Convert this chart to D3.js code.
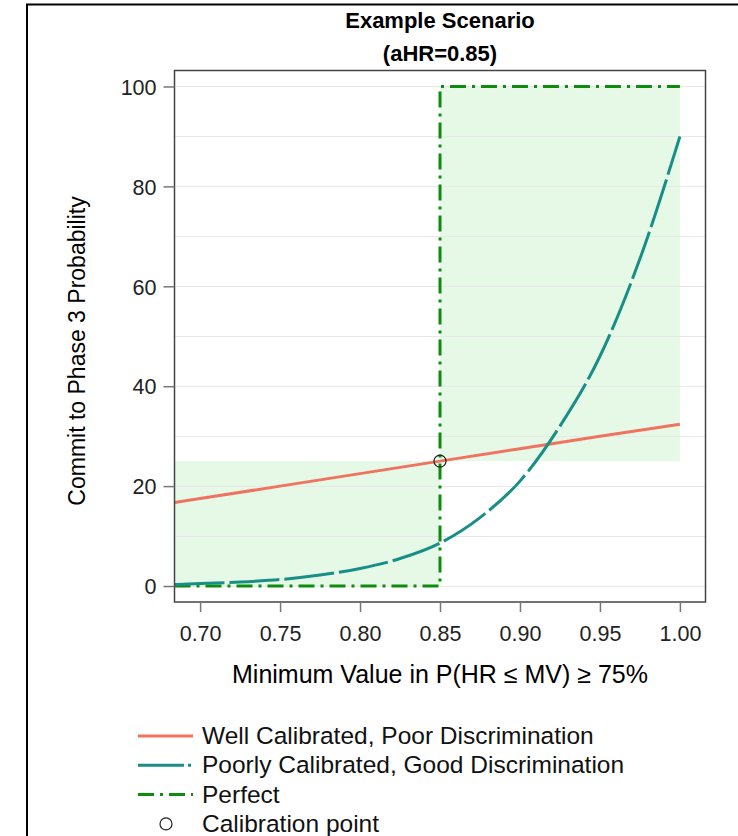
<!DOCTYPE html>
<html>
<head>
<meta charset="utf-8">
<script src="https://cdn.jsdelivr.net/npm/d3@7/dist/d3.min.js"></script>
<style>
  html, body { margin: 0; padding: 0; background: #fff; }
  svg { display: block; font-family: "Liberation Sans", Arial, sans-serif; }
</style>
</head>
<body>
<svg id="chart" width="738" height="836"></svg>
<script>
// Minimum value (x) grid for each curve
const xWell = [0.684, 0.70, 0.75, 0.80, 0.85, 0.90, 0.95, 1.00];
const yWell = [16.7, 17.5, 20.0, 22.5, 25.0, 27.5, 30.0, 32.4];

const xPoor = [0.684, 0.70, 0.725, 0.75, 0.775, 0.80, 0.825, 0.85, 0.875, 0.90, 0.925, 0.95, 0.975, 1.00];
const yPoor = [0.3, 0.5, 0.8, 1.3, 2.2, 3.5, 5.5, 8.6, 13.7, 21.0, 32.0, 46.0, 65.5, 90.0];

// Perfect (step) calibration
const xPerfect = [0.684, 0.85, 0.85, 1.00];
const yPerfect = [0, 0, 100, 100];

// Shaded regions: [x0, x1, y0, y1]
const shadeLow  = [0.684, 0.85, 0, 25];
const shadeHigh = [0.85, 1.00, 25, 100];

// Calibration point
const calibPoint = [0.85, 25];

const xTicks = [0.70, 0.75, 0.80, 0.85, 0.90, 0.95, 1.00];
const yTicks = [0, 20, 40, 60, 80, 100];
const yGrid = [0, 10, 20, 30, 40, 50, 60, 70, 80, 90, 100];

const titleLines = ["Example Scenario", "(aHR=0.85)"];
const xTitle = "Minimum Value in P(HR \u2264 MV) \u2265 75%";
const yTitle = "Commit to Phase 3 Probability";
const legendLabels = ["Well Calibrated, Poor Discrimination", "Poorly Calibrated, Good Discrimination", "Perfect", "Calibration point"];

const colWell = "#ef7360";
const colPoor = "#178f87";
const colPerfect = "#0d8c0d";
const colShade = "#e6f9e6";

const svg = d3.select("#chart");

// outer frame (top and left edges)
svg.append("path")
  .attr("d", "M27,836 V4.5 H738")
  .attr("fill", "none").attr("stroke", "#000").attr("stroke-width", 2);

const plot = { left: 174.5, top: 70.5, right: 705.5, bottom: 602 };

const x = d3.scaleLinear().domain([0.684, 1.016]).range([plot.left, plot.right]);
const y = d3.scaleLinear().domain([-3.2, 103.2]).range([plot.bottom, plot.top]);

svg.append("defs").append("clipPath").attr("id", "clip")
  .append("rect")
  .attr("x", plot.left).attr("y", plot.top)
  .attr("width", plot.right - plot.left).attr("height", plot.bottom - plot.top);

// shaded regions
const g = svg.append("g").attr("clip-path", "url(#clip)");
[shadeLow, shadeHigh].forEach(s => {
  g.append("rect")
    .attr("x", x(s[0])).attr("y", y(s[3]))
    .attr("width", x(s[1]) - x(s[0])).attr("height", y(s[2]) - y(s[3]))
    .attr("fill", colShade);
});

// gridlines
g.selectAll("line.grid").data(yGrid).enter().append("line")
  .attr("class", "grid")
  .attr("x1", plot.left).attr("x2", plot.right)
  .attr("y1", d => Math.round(y(d)) + 0.5).attr("y2", d => Math.round(y(d)) + 0.5)
  .attr("stroke", "#e8e8e8").attr("stroke-width", 1);

const line = d3.line().x(d => x(d[0])).y(d => y(d[1]));

// Perfect
g.append("path")
  .datum(xPerfect.map((v, i) => [v, yPerfect[i]]))
  .attr("d", line)
  .attr("fill", "none").attr("stroke", colPerfect).attr("stroke-width", 3)
  .attr("stroke-dasharray", "16,6,3,6");

// Well calibrated, poor discrimination
g.append("path")
  .datum(xWell.map((v, i) => [v, yWell[i]]))
  .attr("d", line)
  .attr("fill", "none").attr("stroke", colWell).attr("stroke-width", 3);

// Poorly calibrated, good discrimination
g.append("path")
  .datum(xPoor.map((v, i) => [v, yPoor[i]]))
  .attr("d", d3.line().x(d => x(d[0])).y(d => y(d[1])).curve(d3.curveMonotoneX))
  .attr("fill", "none").attr("stroke", colPoor).attr("stroke-width", 3)
  .attr("stroke-dasharray", "50,5");

// calibration point
svg.append("circle")
  .attr("cx", x(calibPoint[0])).attr("cy", y(calibPoint[1])).attr("r", 6)
  .attr("fill", "none").attr("stroke", "#222").attr("stroke-width", 1.2);

// plot frame
svg.append("rect")
  .attr("x", plot.left).attr("y", plot.top)
  .attr("width", plot.right - plot.left).attr("height", plot.bottom - plot.top)
  .attr("fill", "none").attr("stroke", "#444").attr("stroke-width", 1.5);

// axes
const yAxis = d3.axisLeft(y).tickValues(yTicks).tickSize(11).tickPadding(7).tickFormat(d3.format("d"));
const yg = svg.append("g").attr("transform", `translate(${plot.left},0)`).call(yAxis);
const xAxis = d3.axisBottom(x).tickValues(xTicks).tickSize(10).tickPadding(9).tickFormat(d3.format(".2f"));
const xg = svg.append("g").attr("transform", `translate(0,${plot.bottom})`).call(xAxis);
[yg, xg].forEach(a => {
  a.select(".domain").remove();
  a.selectAll(".tick line").attr("stroke", "#777").attr("stroke-width", 1.5);
  a.selectAll(".tick text").attr("fill", "#222").style("font-size", "21.5px")
    .style("font-family", "'Liberation Sans', Arial, sans-serif");
});
yg.selectAll(".tick text").attr("dy", "0.36em");
xg.selectAll(".tick text").attr("y", 0).attr("dy", 0).attr("transform", "translate(0,39)");

// titles
const cx = (plot.left + plot.right) / 2;
svg.selectAll("text.title").data(titleLines).enter().append("text")
  .attr("class", "title")
  .attr("x", cx).attr("y", (d, i) => 28 + i * 33)
  .attr("text-anchor", "middle").attr("font-weight", "bold").attr("font-size", 22)
  .attr("fill", "#000").text(d => d);

svg.append("text")
  .attr("x", cx).attr("y", 683)
  .attr("text-anchor", "middle").attr("font-size", 25).attr("fill", "#000")
  .text(xTitle);

svg.append("text")
  .attr("transform", "translate(85,351) rotate(-90)")
  .attr("text-anchor", "middle").attr("font-size", 23).attr("fill", "#000")
  .text(yTitle);

// legend
const legY0 = 736, legDy = 29.3;
const leg = svg.append("g");
const legStyles = [
  { stroke: colWell, dash: null },
  { stroke: colPoor, dash: "46,4,3,10" },
  { stroke: colPerfect, dash: "16,6,3,6" }
];
legStyles.forEach((s, i) => {
  leg.append("line")
    .attr("x1", 138).attr("x2", 193)
    .attr("y1", legY0 + i * legDy).attr("y2", legY0 + i * legDy)
    .attr("stroke", s.stroke).attr("stroke-width", 3)
    .attr("stroke-dasharray", s.dash);
});
leg.append("circle")
  .attr("cx", 166).attr("cy", legY0 + 3 * legDy).attr("r", 6)
  .attr("fill", "none").attr("stroke", "#222").attr("stroke-width", 1.2);
leg.selectAll("text").data(legendLabels).enter().append("text")
  .attr("x", 202).attr("y", (d, i) => legY0 + i * legDy + 8)
  .attr("font-size", 24.5).attr("fill", "#111").text(d => d);
</script>
</body>
</html>
